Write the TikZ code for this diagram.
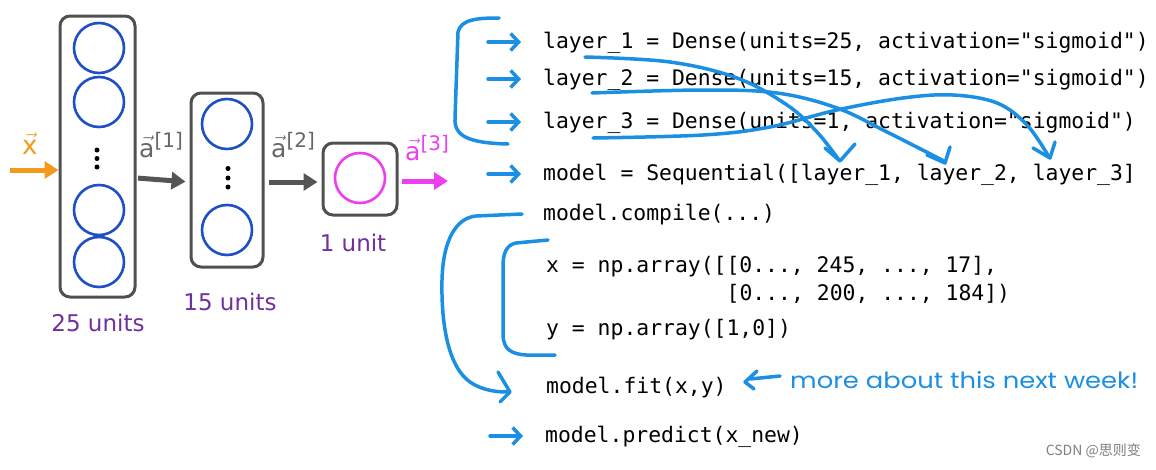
\documentclass[tikz,border=0pt]{standalone}
\usepackage{fontspec}
\usepackage{amsmath}
\setmainfont{DejaVu Sans}
\setmonofont{DejaVu Sans Mono}
\newfontfamily\cjkfont{Noto Sans CJK SC}
\newfontfamily\handfont{Poppins}
\usetikzlibrary{arrows.meta}
\definecolor{handblue}{HTML}{1A8FE3}
\definecolor{boxgray}{HTML}{505050}
\definecolor{neuronblue}{HTML}{1F4FC4}
\definecolor{unitpurple}{HTML}{7030A0}
\definecolor{inorange}{HTML}{F39A1E}
\definecolor{outmag}{HTML}{EE3FEE}
\definecolor{arrgray}{HTML}{555555}
\definecolor{labgray}{HTML}{666666}
\newcommand\myveclab[2]{{\fontsize{25}{28}\selectfont$\vec{\text{#1}}$}\raisebox{9.5pt}{\fontsize{20}{22}\selectfont #2}}
\tikzset{
  layerbox/.style={draw=boxgray, line width=3pt, rounded corners=10pt, inner sep=0pt},
  neuron/.style={circle, draw=neuronblue, line width=2.6pt, minimum size=50pt, inner sep=0pt},
  codeline/.style={font=\fontsize{21.4}{24}\ttfamily, anchor=base west, inner sep=0pt},
  handline/.style={draw=handblue, line width=3.5pt, line cap=round, line join=round},
  handarrow/.style={handline, -{Straight Barb[length=8pt,width=17pt,line width=3.5pt]}},
  unitlabel/.style={font=\fontsize{23}{26}\selectfont, text=unitpurple, inner sep=0pt},
  veclabel/.style={anchor=base west, inner sep=0pt},
  fatarrow/.style={line width=5pt, -{Triangle[length=14pt,width=17pt]}},
  ndot/.style={circle, fill=black, inner sep=0pt, minimum size=5pt},
}
\begin{document}
\begin{tikzpicture}[x=1pt,y=-1pt]
\useasboundingbox (0,0) rectangle (1156,469);
\fill[white] (0,0) rectangle (1156,469);

% ---------------- network ----------------
\node[layerbox, minimum width=75pt, minimum height=281pt] (box1) at (97.5,156.5) {};
\node[layerbox, minimum width=72pt, minimum height=174pt] (box2) at (227,180) {};
\node[layerbox, minimum width=74pt, minimum height=72pt] (box3) at (360,179) {};

\node[neuron] (n11) at (99,48) {};
\node[neuron] (n12) at (99,102) {};
\node[neuron] (n13) at (99,210) {};
\node[neuron] (n14) at (99,262) {};
\node[ndot] (d11) at (97,150) {};
\node[ndot] (d12) at (97,158.5) {};
\node[ndot] (d13) at (97,167) {};

\node[neuron] (n21) at (227,124) {};
\node[neuron] (n22) at (227,230) {};
\node[ndot] (d21) at (228,168.5) {};
\node[ndot] (d22) at (228,178) {};
\node[ndot] (d23) at (228,187) {};

\node[neuron, draw=outmag] (n31) at (360,178) {};

\node[unitlabel] (u1) at (98,323) {25 units};
\node[unitlabel] (u2) at (230,302) {15 units};
\node[unitlabel] (u3) at (353,243) {1 unit};

\coordinate (xin) at (10,170);
\coordinate (aout) at (448,181);
\draw[fatarrow, draw=inorange, fill=inorange] (xin) -- (xin -| box1.west);
\draw[fatarrow, draw=arrgray, fill=arrgray, shorten <=1.5pt, shorten >=4pt]
  ([yshift=-21.5pt]box1.east) -- ([yshift=-2pt]box2.west);
\draw[fatarrow, draw=arrgray, fill=arrgray, shorten <=4.5pt, shorten >=4pt]
  ([yshift=-2pt]box2.east) -- ([yshift=-3pt]box3.west);
\draw[fatarrow, draw=outmag, fill=outmag, shorten <=3.5pt] ([yshift=-2pt]box3.east) -- (aout);

\node[veclabel, text=inorange, font=\fontsize{26}{28}\selectfont] (lx) at (22,154) {$\vec{\text{x}}$};
\node[veclabel, text=labgray] (la1) at (139,157) {\myveclab{a}{[1]}};
\node[veclabel, text=labgray] (la2) at (271,157) {\myveclab{a}{[2]}};
\node[veclabel, text=outmag] (la3) at (405,160) {\myveclab{a}{[3]}};

% ---------------- code ----------------
\node[codeline] (L1) at (543,48) {layer\_1 = Dense(units=25, activation="sigmoid")};
\node[codeline] (L2) at (543,85) {layer\_2 = Dense(units=15, activation="sigmoid")};
\node[codeline] (L3) at (543,128) {layer\_3 = Dense(units=1, activation="sigmoid")};
\node[codeline] (L4) at (543,180) {model = Sequential([layer\_1, layer\_2, layer\_3]};
\node[codeline] (L5) at (543,220) {model.compile(...)};
\node[codeline] (L6) at (546,272) {x = np.array([[0..., 245, ..., 17],};
\node[codeline] (L7) at (726.5,300) {[0..., 200, ..., 184])};
\node[codeline] (L8) at (546,335) {y = np.array([1,0])};
\node[codeline] (L9) at (546,393) {model.fit(x,y)};
\node[codeline] (L10) at (545,442) {model.predict(x\_new)};

% hand arrows pointing at lines
\foreach \L in {L1,L2,L3,L4,L10}{
  \draw[handarrow] ([xshift=-55pt,yshift=6pt]\L.base west) -- ([xshift=-22pt,yshift=6pt]\L.base west);
}

% bracket around the three layers
\draw[handline] (499,18) .. controls (478,18) and (461,19) .. (458,32)
  -- (455,118) .. controls (454,136) and (468,143) .. (508,144);

% big bracket from compile to fit
\draw[handline] (522,214) -- (476,216) .. controls (456,218) and (443,240) .. (442,280)
  .. controls (441,330) and (450,368) .. (470,382) .. controls (480,389) and (493,392) .. (507,392);
\draw[handline] (498,372) -- (510,392) -- (500,402);

% inner bracket around data
\draw[handline] (548,240) -- (516,243) .. controls (506,245) and (503,254) .. (503,266)
  -- (503,334) .. controls (503,350) and (512,354) .. (526,355) -- (555,355);

% crossing arrows layer_i -> Sequential list
\draw[handline] plot[smooth, tension=0.6] coordinates {(585,57) (670,62) (737,78) (787,105) (817,132) (839,160)};
\draw[handline] (825,148) -- (840,161) -- (855,144);
\draw[handline] plot[smooth, tension=0.6] coordinates {(592,93) (703,90) (777,93) (837,108) (887,132) (944,161)};
\draw[handline] (927,155) -- (945,163) -- (950,147);
\draw[handline] plot[smooth, tension=0.6] coordinates {(593,138) (703,135) (770,127) (837,110) (903,98) (953,95) (997,103) (1027,125) (1049,157)};
\draw[handline] (1033,148) -- (1050,158) -- (1055,142);

% note next to fit
\draw[handline] (780,376) -- (750,379);
\draw[handline] (757,371) -- (745,382) -- (754,389);
\node[anchor=base west, inner sep=0pt, text=handblue] (note) at (790,388)
  {\resizebox{348pt}{17pt}{\handfont more about this next week!}};

% watermark
\node[anchor=east, inner sep=0pt, text=gray, font=\cjkfont\fontsize{14}{16}\selectfont] (wm) at (1141,451) {CSDN @思则变};
\end{tikzpicture}
\end{document}
